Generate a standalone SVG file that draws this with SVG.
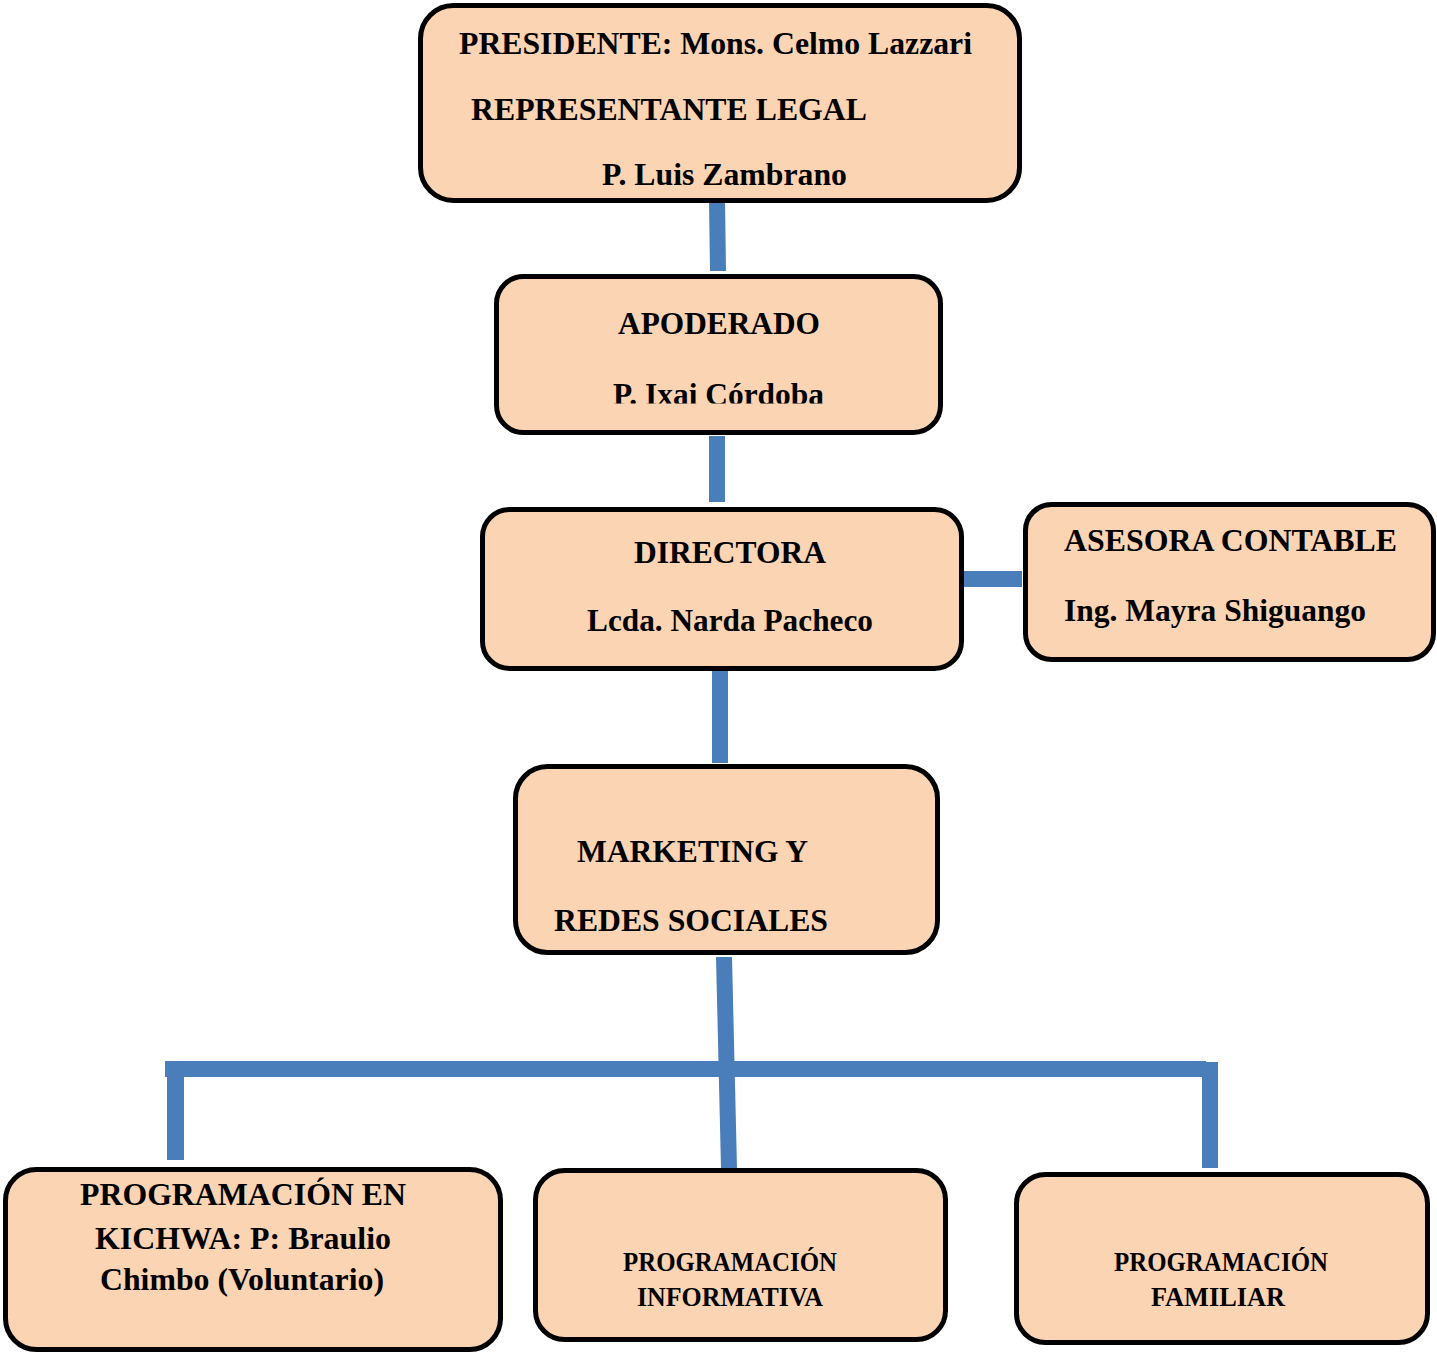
<svg xmlns="http://www.w3.org/2000/svg" width="1437" height="1353" viewBox="0 0 1437 1353">
<style>
.box{fill:#FBD4B4;stroke:#000;stroke-width:5}
.t{font-family:'Liberation Serif','Times New Roman',Times,serif;font-weight:700;font-size:31.5px;fill:#000}
.s{font-size:27px}
.c{fill:#4A7EBB}
</style>
<defs>
<clipPath id="clipApo"><rect x="490" y="270" width="460" height="133.5"/></clipPath>
</defs>
<rect width="1437" height="1353" fill="#fff"/>
<g id="connectors">
<polygon class="c" points="709,200 725,200 726,271 710,271"/>
<rect class="c" x="709" y="436" width="16" height="66"/>
<rect class="c" x="712" y="668" width="16" height="95"/>
<rect class="c" x="960" y="571" width="62" height="16"/>
<polygon class="c" points="716,957 732,957 737,1168 721,1168"/>
<rect class="c" x="165" y="1061" width="1041" height="16"/>
<rect class="c" x="167" y="1061" width="17" height="99"/>
<rect class="c" x="1202" y="1062" width="16" height="106"/>
</g>
<g id="presidente">
<rect class="box" x="420.5" y="5.5" width="599" height="195" rx="33"/>
<text class="t" font-family="Liberation Serif" x="459" y="54" textLength="513" lengthAdjust="spacingAndGlyphs">PRESIDENTE: Mons. Celmo Lazzari</text>
<text class="t" font-family="Liberation Serif" x="471" y="120" textLength="396" lengthAdjust="spacingAndGlyphs">REPRESENTANTE LEGAL</text>
<text class="t" font-family="Liberation Serif" x="602" y="185" textLength="245" lengthAdjust="spacingAndGlyphs">P. Luis Zambrano</text>
</g>
<g id="apoderado">
<rect class="box" x="496.5" y="276.5" width="444" height="156" rx="27"/>
<text class="t" font-family="Liberation Serif" x="618" y="334" textLength="202" lengthAdjust="spacingAndGlyphs">APODERADO</text>
<text class="t" font-family="Liberation Serif" x="613" y="405" textLength="211" lengthAdjust="spacingAndGlyphs" clip-path="url(#clipApo)">P. Ixai Córdoba</text>
</g>
<g id="directora">
<rect class="box" x="482.5" y="509.5" width="479" height="159" rx="27"/>
<text class="t" font-family="Liberation Serif" x="634" y="563" textLength="192" lengthAdjust="spacingAndGlyphs">DIRECTORA</text>
<text class="t" font-family="Liberation Serif" x="587" y="631" textLength="286" lengthAdjust="spacingAndGlyphs">Lcda. Narda Pacheco</text>
</g>
<g id="asesora">
<rect class="box" x="1025.5" y="504.5" width="408" height="155" rx="26"/>
<text class="t" font-family="Liberation Serif" x="1064" y="551" textLength="333" lengthAdjust="spacingAndGlyphs">ASESORA CONTABLE</text>
<text class="t" font-family="Liberation Serif" x="1064" y="621" textLength="302" lengthAdjust="spacingAndGlyphs">Ing. Mayra Shiguango</text>
</g>
<g id="marketing">
<rect class="box" x="515.5" y="766.5" width="422" height="186" rx="32"/>
<text class="t" font-family="Liberation Serif" x="577" y="862" textLength="231" lengthAdjust="spacingAndGlyphs">MARKETING Y</text>
<text class="t" font-family="Liberation Serif" x="554" y="931" textLength="274" lengthAdjust="spacingAndGlyphs">REDES SOCIALES</text>
</g>
<g id="kichwa">
<rect class="box" x="5.5" y="1169.5" width="495" height="180" rx="31"/>
<text class="t" font-family="Liberation Serif" x="80" y="1205" textLength="326" lengthAdjust="spacingAndGlyphs">PROGRAMACIÓN EN</text>
<text class="t" font-family="Liberation Serif" x="95" y="1249" textLength="296" lengthAdjust="spacingAndGlyphs">KICHWA: P: Braulio</text>
<text class="t" font-family="Liberation Serif" x="100" y="1290" textLength="284" lengthAdjust="spacingAndGlyphs">Chimbo (Voluntario)</text>
</g>
<g id="informativa">
<rect class="box" x="535.5" y="1170.5" width="410" height="169" rx="29"/>
<text class="t s" font-family="Liberation Serif" x="623" y="1271" textLength="214" lengthAdjust="spacingAndGlyphs">PROGRAMACIÓN</text>
<text class="t s" font-family="Liberation Serif" x="637" y="1306" textLength="186" lengthAdjust="spacingAndGlyphs">INFORMATIVA</text>
</g>
<g id="familiar">
<rect class="box" x="1016.5" y="1174.5" width="411" height="168" rx="29"/>
<text class="t s" font-family="Liberation Serif" x="1114" y="1271" textLength="214" lengthAdjust="spacingAndGlyphs">PROGRAMACIÓN</text>
<text class="t s" font-family="Liberation Serif" x="1151" y="1306" textLength="134" lengthAdjust="spacingAndGlyphs">FAMILIAR</text>
</g>
</svg>
